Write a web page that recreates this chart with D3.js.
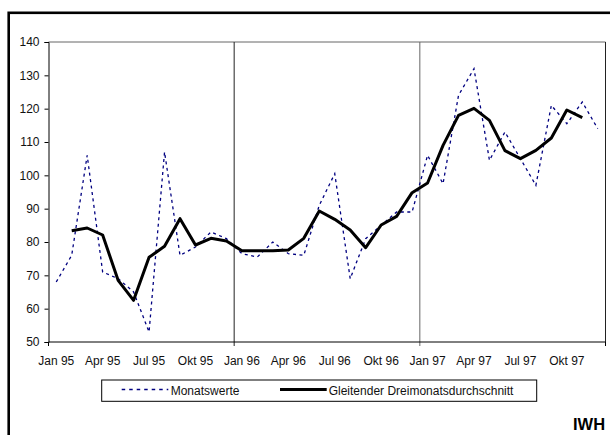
<!DOCTYPE html>
<html>
<head>
<meta charset="utf-8">
<script src="https://cdn.jsdelivr.net/npm/d3@7"></script>
<style>
  html, body { margin: 0; padding: 0; background: #fff; }
  svg { display: block; font-family: Arial, "Liberation Sans", sans-serif; }
</style>
</head>
<body>
<div id="chart"></div>
<script>
// ---- Data ----
const months = ["Jan", "Feb", "Mrz", "Apr", "Mai", "Jun", "Jul", "Aug", "Sep", "Okt", "Nov", "Dez"];
const years = ["95", "96", "97"];
const categories = years.flatMap(y => months.map(m => `${m} ${y}`));

// Monthly values Jan 95 .. Dez 97
const monatswerte = [
  68, 76, 106, 71, 69, 65, 53, 107, 76, 78.5, 83, 81,
  76.5, 75.5, 80, 76.5, 76, 91, 100.5, 69, 81, 85, 89, 89,
  106, 97.5, 124, 132, 104.5, 113, 105, 97, 121, 115.5, 122, 114
];

// Centred three-month average, Feb 95 .. Nov 97 (null where not defined)
const gleitend = [
  null, 83.4, 84.2, 82.1, 68.5, 62.5, 75.4, 78.7, 87, 79.1, 81.1, 80.3,
  77.4, 77.4, 77.4, 77.6, 81.1, 89.3, 86.8, 83.6, 78.3, 85.1, 87.7, 94.8,
  97.7, 109, 118, 120.1, 116.5, 107.4, 105, 107.5, 111.2, 119.6, 117.3, null
];

const yTicks = [50, 60, 70, 80, 90, 100, 110, 120, 130, 140];
const labelEvery = 3;      // Jan / Apr / Jul / Okt
const yearBoundaries = [12, 24];

const legendItems = [
  { label: "Monatswerte", key: "monat" },
  { label: "Gleitender Dreimonatsdurchschnitt", key: "gleit" },
];

// ---- Layout ----
const W = 610, H = 435;
const plot = { left: 48.5, right: 605.5, top: 42, bottom: 342 };

const svg = d3.select("#chart").append("svg")
  .attr("width", W).attr("height", H);

// Outer frame (runs off the right and bottom edge)
svg.append("rect")
  .attr("x", 8.7).attr("y", 12.8)
  .attr("width", 700).attr("height", 600)
  .attr("fill", "none").attr("stroke", "#000").attr("stroke-width", 2.6);

// ---- Scales ----
const x = d3.scaleBand()
  .domain(categories)
  .range([plot.left, plot.right])
  .padding(0);

const y = d3.scaleLinear()
  .domain([50, 140])
  .range([plot.bottom, plot.top]);

const cx = i => x(categories[i]) + x.bandwidth() / 2;
const boundary = i => plot.left + i * x.bandwidth();

// ---- Plot frame ----
svg.append("line")
  .attr("x1", plot.left).attr("x2", plot.right)
  .attr("y1", plot.top).attr("y2", plot.top)
  .attr("stroke", "#666").attr("stroke-width", 1);
svg.append("line")
  .attr("x1", plot.right).attr("x2", plot.right)
  .attr("y1", plot.top).attr("y2", plot.bottom)
  .attr("stroke", "#222").attr("stroke-width", 1);

// Year separators
svg.selectAll("line.year")
  .data(yearBoundaries)
  .join("line")
  .attr("class", "year")
  .attr("x1", d => boundary(d)).attr("x2", d => boundary(d))
  .attr("y1", plot.top).attr("y2", plot.bottom + 4)
  .attr("stroke", (d, i) => i === 0 ? "#222" : "#666")
  .attr("stroke-width", 1);

// ---- Y axis ----
const yAxis = svg.append("g")
  .attr("transform", `translate(${plot.left},0)`)
  .call(d3.axisLeft(y).tickValues(yTicks).tickSize(4).tickPadding(5));
yAxis.select(".domain").attr("stroke", "#000");
yAxis.selectAll(".tick line").attr("stroke", "#000");
yAxis.selectAll("text")
  .attr("font-size", 12).attr("fill", "#111")
  .attr("font-family", "Arial, 'Liberation Sans', sans-serif");

// ---- X axis ----
const xAxis = svg.append("g")
  .attr("transform", `translate(0,${plot.bottom})`)
  .call(d3.axisBottom(x)
    .tickValues(categories.filter((d, i) => i % labelEvery === 0))
    .tickSize(0).tickPadding(14));
xAxis.select(".domain").remove();
xAxis.selectAll("text")
  .attr("font-size", 12).attr("fill", "#111")
  .attr("font-family", "Arial, 'Liberation Sans', sans-serif");

svg.append("line")
  .attr("x1", plot.left).attr("x2", plot.right)
  .attr("y1", plot.bottom).attr("y2", plot.bottom)
  .attr("stroke", "#000");
svg.selectAll("line.xtick")
  .data([0, 36])
  .join("line")
  .attr("class", "xtick")
  .attr("x1", d => boundary(d)).attr("x2", d => boundary(d))
  .attr("y1", plot.bottom).attr("y2", plot.bottom + 4)
  .attr("stroke", "#000");

// ---- Lines ----
const monatLine = d3.line()
  .x((d, i) => cx(i))
  .y(d => y(d));

const gleitLine = d3.line()
  .defined(d => d !== null)
  .x((d, i) => cx(i))
  .y(d => y(d));

svg.append("path")
  .datum(monatswerte)
  .attr("d", monatLine)
  .attr("fill", "none")
  .attr("stroke", "#000080")
  .attr("stroke-width", 1.3)
  .attr("stroke-dasharray", "3,3.5");

svg.append("path")
  .datum(gleitend)
  .attr("d", gleitLine)
  .attr("fill", "none")
  .attr("stroke", "#000")
  .attr("stroke-width", 3)
  .attr("stroke-linejoin", "round");

// ---- Legend ----
const legend = svg.append("g");
legend.append("rect")
  .attr("x", 101.7).attr("y", 380)
  .attr("width", 435).attr("height", 21.3)
  .attr("fill", "#fff").attr("stroke", "#000").attr("stroke-width", 1);

const legendPos = [
  { x1: 121.7, x2: 168.3, tx: 170.7 },
  { x1: 280, x2: 326.7, tx: 328.7 },
];

legendItems.forEach((item, i) => {
  const p = legendPos[i];
  legend.append("line")
    .attr("x1", p.x1).attr("x2", p.x2)
    .attr("y1", 389.5).attr("y2", 389.5)
    .attr("stroke", item.key === "monat" ? "#000080" : "#000")
    .attr("stroke-width", item.key === "monat" ? 1.5 : 3)
    .attr("stroke-dasharray", item.key === "monat" ? "3.5,4" : null);
  legend.append("text")
    .attr("x", p.tx).attr("y", 395)
    .attr("font-size", 12).attr("fill", "#111")
    .text(item.label);
});

// ---- Source tag ----
svg.append("text")
  .attr("x", 573).attr("y", 430)
  .attr("font-size", 16.5).attr("font-weight", "bold")
  .attr("fill", "#000")
  .text("IWH");
</script>
</body>
</html>
